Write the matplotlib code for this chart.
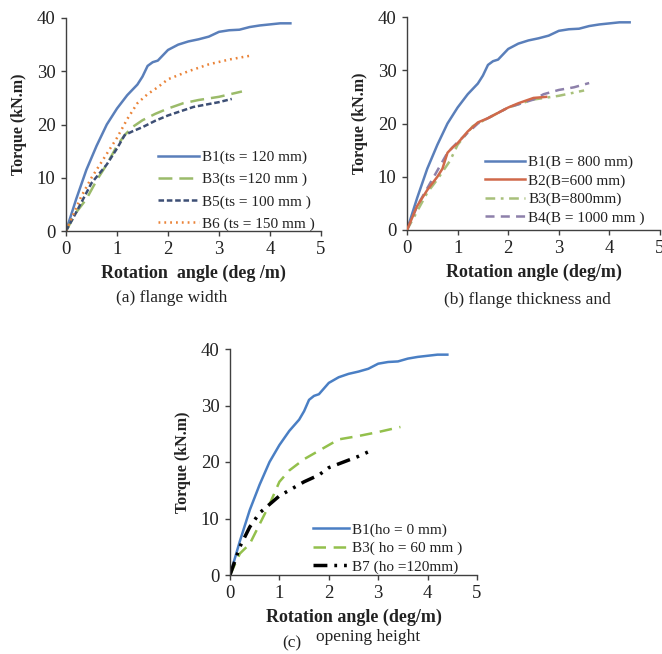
import matplotlib
matplotlib.use("Agg")
import matplotlib.pyplot as plt

plt.rcParams['font.family'] = ['Liberation Serif', 'DejaVu Serif']
plt.rcParams['lines.scale_dashes'] = False

# ---------------- data ----------------
b1_x = [0, 0.2, 0.4, 0.6, 0.8, 1.0, 1.2, 1.4, 1.5, 1.6, 1.7, 1.8, 1.9, 2.0, 2.2, 2.4, 2.6, 2.8, 3.0, 3.2, 3.4, 3.6, 3.8, 4.0, 4.2, 4.4]
b1_y = [0, 6, 11.5, 16, 20, 23, 25.5, 27.5, 29, 31, 31.7, 32, 33, 34, 35, 35.6, 36, 36.5, 37.4, 37.7, 37.8, 38.3, 38.6, 38.8, 39, 39]

a_b3_x = [0, 0.2, 0.4, 0.6, 0.8, 1.0, 1.15, 1.3, 1.5, 1.75, 2.0, 2.3, 2.6, 3.0, 3.45]
a_b3_y = [0, 3.5, 6, 9.5, 12.5, 16, 18, 19.5, 20.8, 22, 23, 24, 24.6, 25.2, 26.2]
a_b5_x = [0, 0.2, 0.5, 0.8, 1.0, 1.15, 1.3, 1.5, 1.75, 2.0, 2.5, 3.0, 3.25]
a_b5_y = [0, 3.5, 9, 12.5, 15.5, 18, 18.7, 19.5, 20.7, 21.7, 23.3, 24.2, 24.8]
a_b6_x = [0, 0.3, 0.5, 0.8, 1.0, 1.2, 1.4, 1.6, 1.8, 2.0, 2.4, 2.8, 3.2, 3.66]
a_b6_y = [0, 6.5, 10, 14.5, 17.5, 21, 24, 25.7, 27, 28.5, 30, 31.3, 32.2, 33]

b_b2_x = [0, 0.2, 0.4, 0.6, 0.7, 0.8, 0.9, 1.0, 1.2, 1.4, 1.6, 1.8, 2.0, 2.2, 2.5, 2.75]
b_b2_y = [0, 4.5, 7.5, 10, 11.5, 14.5, 15.5, 16.3, 18.5, 20.2, 21, 22, 23, 23.8, 24.8, 25]
b_b3_x = [0, 0.2, 0.4, 0.6, 0.85, 1.0, 1.3, 1.6, 2.0, 2.5, 3.0, 3.5]
b_b3_y = [0, 3.5, 7, 9.5, 13, 16, 19.5, 21, 23, 24.5, 25.2, 26.2]
b_b4_x = [0, 0.2, 0.5, 0.8, 1.0, 1.4, 2.0, 2.5, 2.7, 3.0, 3.3, 3.6]
b_b4_y = [0, 4.5, 9.5, 14.5, 16.5, 20, 23, 24.5, 25.5, 26.3, 26.8, 27.6]

c_b3_x = [0, 0.2, 0.4, 0.6, 0.8, 1.0, 1.2, 1.5, 1.8, 2.0, 2.2, 2.6, 3.0, 3.45]
c_b3_y = [0, 3.8, 5.5, 9, 12.5, 16.5, 18.5, 20.5, 22, 23, 24, 24.6, 25.3, 26.2]
c_b7_x = [0, 0.2, 0.4, 0.6, 0.8, 1.0, 1.2, 1.5, 1.8, 2.0, 2.3, 2.6, 2.85]
c_b7_y = [0, 5, 8.5, 11, 12.5, 14, 15, 16.5, 17.7, 19, 20, 21, 22]

labels_a = ['B1(ts = 120 mm)', 'B3(ts =120 mm )', 'B5(ts = 100 mm )', 'B6 (ts = 150 mm )']
labels_b = ['B1(B = 800 mm)', 'B2(B=600 mm)', 'B3(B=800mm)', 'B4(B = 1000 mm )']
labels_c = ['B1(ho = 0 mm)', 'B3( ho = 60 mm )', 'B7 (ho =120mm)']
x_ticks = [0, 1, 2, 3, 4, 5]
y_ticks = [0, 10, 20, 30, 40]

# ---------------- figure ----------------
W, H = 662, 654
fig = plt.figure(figsize=(W / 100, H / 100), dpi=100)

def ax_px(left, right, top, bottom):
    return fig.add_axes([left / W, 1 - bottom / H, (right - left) / W, (bottom - top) / H])

def style(ax, xlabel, ylabel_size=11.5, xlabel_size=13):
    ax.set_xlim(0, 5)
    ax.set_ylim(0, 40)
    ax.set_xticks(x_ticks)
    ax.set_yticks(y_ticks)
    for s in ['top', 'right']:
        ax.spines[s].set_visible(False)
    for s in ['left', 'bottom']:
        ax.spines[s].set_color('#404040')
        ax.spines[s].set_linewidth(1.0)
    ax.tick_params(axis='both', direction='out', length=3.5, width=1.0, color='#404040',
                   labelsize=13.5, labelcolor='#222222')
    ax.tick_params(axis='x', pad=3.5)
    ax.tick_params(axis='y', pad=4)
    ax.set_xlabel(xlabel, fontsize=xlabel_size, fontweight='bold', labelpad=5, color='#222222')
    ax.set_ylabel('Torque (kN.m)', fontsize=ylabel_size, fontweight='bold', labelpad=7, color='#222222')

def legend(ax, anchor, spacing, hl):
    lg = ax.legend(loc='lower left', bbox_to_anchor=anchor, frameon=False, fontsize=11,
                   handlelength=hl, handletextpad=0.2, labelspacing=spacing,
                   borderaxespad=0, borderpad=0)
    for t in lg.get_texts():
        t.set_color('#222222')
    return lg

# ----- panel (a) -----
ax = ax_px(66, 321, 18, 231)
ax.plot(b1_x, b1_y, color='#5a7fba', lw=1.8, label=labels_a[0])
ax.plot(a_b3_x, a_b3_y, color='#9bbb6a', lw=1.8, dashes=(10, 5), label=labels_a[1])
ax.plot(a_b5_x, a_b5_y, color='#3d4f75', lw=1.8, dashes=(4, 2), label=labels_a[2])
ax.plot(a_b6_x, a_b6_y, color='#ea8338', lw=1.8, dashes=(1.3, 2.9), label=labels_a[3])
style(ax, 'Rotation  angle (deg /m)')
legend(ax, (0.36, 0.0), 0.55, 2.7)
fig.text(172 / W, 1 - 298 / H, '(a) flange width', ha='center', va='center', fontsize=12.5, color='#222222')

# ----- panel (b) -----
ax = ax_px(407, 660, 17, 230)
ax.plot(b1_x, b1_y, color='#5a7fba', lw=1.8, label=labels_b[0])
ax.plot(b_b2_x, b_b2_y, color='#d0694a', lw=1.8, label=labels_b[1], zorder=4)
ax.plot(b_b3_x, b_b3_y, color='#a8c07a', lw=1.8, dashes=(7, 4, 2, 4), label=labels_b[2])
ax.plot(b_b4_x, b_b4_y, color='#8d80aa', lw=1.8, dashes=(6.5, 4.5), label=labels_b[3])
style(ax, 'Rotation angle (deg/m)')
legend(ax, (0.31, 0.025), 0.3, 2.6)
fig.text(527 / W, 1 - 300 / H, '(b) flange thickness and', ha='center', va='center', fontsize=12.5, color='#222222')

# ----- panel (c) -----
ax = ax_px(230, 477, 349, 575)
ax.plot(b1_x, b1_y, color='#4a7fc4', lw=1.8, label=labels_c[0])
ax.plot(c_b3_x, c_b3_y, color='#93c04c', lw=1.8, dashes=(9, 5.5), label=labels_c[1])
ax.plot(c_b7_x, c_b7_y, color='#000000', lw=2.5, dashes=(10, 5, 2, 5, 2, 5), label=labels_c[2])
style(ax, 'Rotation angle (deg/m)')
legend(ax, (0.335, 0.005), 0.3, 2.4)
fig.text(292 / W, 1 - 643 / H, '(c)', ha='center', va='center', fontsize=12.5, color='#222222')
fig.text(368 / W, 1 - 637 / H, 'opening height', ha='center', va='center', fontsize=12.5, color='#222222')

fig.savefig('out.png', dpi=100)
